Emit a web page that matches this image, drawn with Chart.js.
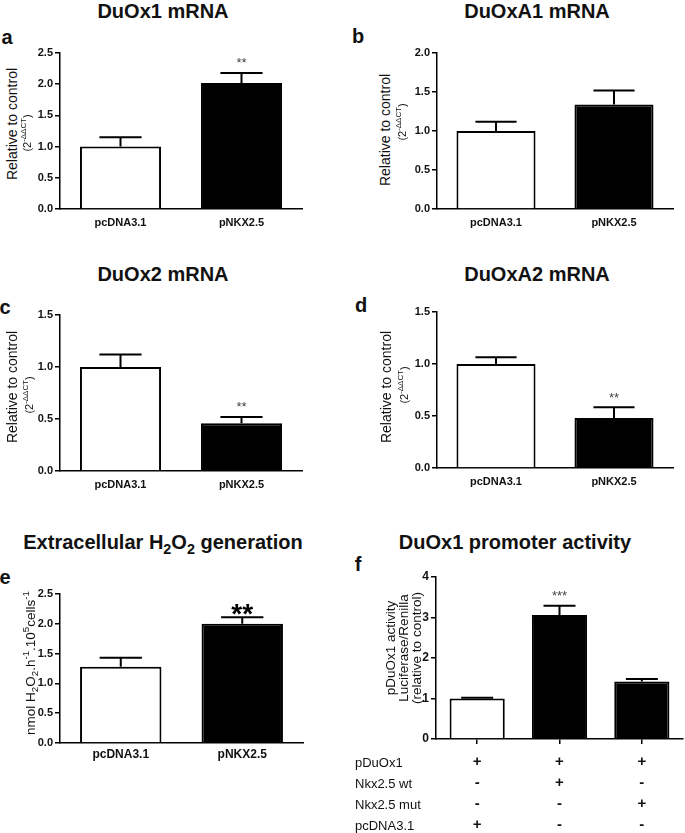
<!DOCTYPE html>
<html>
<head>
<meta charset="utf-8">
<script src="https://cdn.jsdelivr.net/npm/chart.js@4.4.1/dist/chart.umd.min.js"></script>
<style>
body { margin: 0; background: #fff; }
#fig { position: relative; width: 685px; height: 833px; overflow: hidden; font-family: "Liberation Sans", Arial, sans-serif; color: #111; }
#fig canvas { position: absolute; }
.t { position: absolute; white-space: nowrap; transform: translate(-50%, -50%); line-height: 1; }
.title { font-weight: bold; font-size: 20px; }
.letter { font-weight: bold; font-size: 20px; }
.ylab { transform: translate(-50%, -50%) rotate(-90deg); font-size: 14px; }
.ysub { transform: translate(-50%, -50%) rotate(-90deg); font-size: 11px; }
.ybig { transform: translate(-50%, -50%) rotate(-90deg); font-size: 13.5px; text-align: center; line-height: 13px; }
.row { transform: translate(0, -50%); font-size: 13px; }
sub, sup { font-size: 72%; line-height: 0; }
</style>
</head>
<body>
<div id="fig"></div>
<script>
// ---- data ----
const groups = ['pcDNA3.1', 'pNKX2.5'];
const duox1 = [1.00, 2.02];
const duox1Err = [0.15, 0.16];
const duox1Sig = ['', '**'];
const duoxa1 = [1.00, 1.34];
const duoxa1Err = [0.12, 0.18];
const duoxa1Sig = ['', ''];
const duox2 = [1.00, 0.46];
const duox2Err = [0.12, 0.06];
const duox2Sig = ['', '**'];
const duoxa2 = [1.00, 0.48];
const duoxa2Err = [0.065, 0.105];
const duoxa2Sig = ['', '**'];
const h2o2 = [1.28, 2.00];
const h2o2Err = [0.15, 0.11];
const h2o2Sig = ['', '**'];
const promoter = [1.00, 3.06, 1.42];
const promoterErr = [0.02, 0.23, 0.06];
const promoterSig = ['', '***', ''];
const rowLabels = ['pDuOx1', 'Nkx2.5 wt', 'Nkx2.5 mut', 'pcDNA3.1'];
const pDuOx1Row = ['+', '+', '+'];
const wtRow = ['-', '+', '-'];
const mutRow = ['-', '-', '+'];
const pcdnaRow = ['+', '-', '-'];
const colors2 = ['#ffffff', '#000000'];
const colors3 = ['#ffffff', '#000000', '#000000'];

Chart.defaults.font.family = '"Liberation Sans", Arial, sans-serif';
Chart.defaults.color = '#111';

const fig = document.getElementById('fig');

function errorBars(errs, sigs, st) {
  return {
    id: 'errorBars',
    afterDatasetsDraw(chart) {
      const ctx = chart.ctx, y = chart.scales.y;
      const ds = chart.data.datasets[0];
      ctx.save();
      ctx.strokeStyle = '#000';
      ctx.lineWidth = 2;
      chart.getDatasetMeta(0).data.forEach((bar, i) => {
        const v = ds.data[i];
        const yTop = y.getPixelForValue(v + errs[i]);
        const yVal = y.getPixelForValue(v);
        const half = bar.width * st.cap / 2;
        ctx.beginPath();
        ctx.moveTo(bar.x, yVal);
        ctx.lineTo(bar.x, yTop);
        ctx.moveTo(bar.x - half, yTop);
        ctx.lineTo(bar.x + half, yTop);
        ctx.stroke();
        if (sigs[i]) {
          ctx.fillStyle = st.color;
          ctx.font = st.font;
          ctx.textAlign = 'center';
          ctx.textBaseline = 'alphabetic';
          ctx.fillText(sigs[i], bar.x, yTop - st.gap + st.size * 0.57);
        }
      });
      ctx.restore();
    }
  };
}

function barPanel(box, labels, values, errs, sigs, colors, opt) {
  const yW = 34, padT = 12, padR = 8;
  const w = box.right - box.left + yW + padR;
  const h = box.bottom - box.top + padT + opt.xH;
  const cv = document.createElement('canvas');
  cv.width = w; cv.height = h;
  cv.style.left = (box.left - yW) + 'px';
  cv.style.top = (box.top - padT) + 'px';
  cv.style.width = w + 'px';
  cv.style.height = h + 'px';
  fig.appendChild(cv);

  const xAxis = opt.table ? {
    grid: { display: true, drawOnChartArea: false, offset: false, drawTicks: true, tickLength: 5, color: '#000', lineWidth: 1.5 },
    border: { display: true, color: '#000', width: 1.5 },
    ticks: { padding: opt.xPad, color: '#111', font: { size: 15, weight: 'bold', lineHeight: '21px' } },
    afterFit: s => { s.height = opt.xH; }
  } : {
    grid: { display: false, drawTicks: false },
    border: { display: true, color: '#000', width: 1.5 },
    ticks: { padding: opt.xPad, color: '#111', font: { size: opt.xFont, weight: 'bold' } },
    afterFit: s => { s.height = opt.xH; }
  };

  new Chart(cv, {
    type: 'bar',
    data: {
      labels: labels,
      datasets: [{
        data: values,
        backgroundColor: colors,
        borderColor: '#000',
        borderWidth: 2,
        borderSkipped: 'start',
        barPercentage: opt.barPct,
        categoryPercentage: 1
      }]
    },
    options: {
      responsive: false,
      animation: false,
      devicePixelRatio: 1,
      layout: { padding: { top: padT, right: padR, left: 0, bottom: 0 } },
      plugins: { legend: { display: false }, tooltip: { enabled: false } },
      scales: {
        x: xAxis,
        y: {
          min: 0, max: opt.yMax,
          ticks: { stepSize: opt.step, padding: 2, color: '#111', font: { size: opt.yFont, weight: 'bold' }, callback: v => opt.fmt(v) },
          grid: { display: true, drawOnChartArea: false, drawTicks: true, tickLength: 5, color: '#000', lineWidth: 1.5 },
          border: { display: true, color: '#000', width: 1.5 },
          afterFit: s => { s.width = yW; }
        }
      }
    },
    plugins: [errorBars(errs, sigs, opt.star)]
  });
}

const smallStar = { font: '13px "Liberation Sans", Arial, sans-serif', size: 13, color: '#444', gap: 13, cap: 0.52 };
const bigStar = { font: 'bold 28px "Liberation Sans", Arial, sans-serif', size: 28, color: '#000', gap: 10, cap: 0.52 };
const f1 = v => v.toFixed(1);
const mrnaOpt = (yMax) => ({ yMax: yMax, step: 0.5, fmt: f1, yFont: 11, xFont: 11, xPad: 7, xH: 26, barPct: 0.67, star: smallStar });

barPanel({ left: 60, top: 53, right: 302, bottom: 209 }, groups, duox1, duox1Err, duox1Sig, colors2, mrnaOpt(2.5));
barPanel({ left: 437, top: 53, right: 673, bottom: 209 }, groups, duoxa1, duoxa1Err, duoxa1Sig, colors2, mrnaOpt(2.0));
barPanel({ left: 60, top: 315, right: 302, bottom: 471 }, groups, duox2, duox2Err, duox2Sig, colors2, mrnaOpt(1.5));
barPanel({ left: 437, top: 312, right: 673, bottom: 468 }, groups, duoxa2, duoxa2Err, duoxa2Sig, colors2, mrnaOpt(1.5));
barPanel({ left: 60, top: 594, right: 303, bottom: 743 }, groups, h2o2, h2o2Err, h2o2Sig, colors2,
  { yMax: 2.5, step: 0.5, fmt: f1, yFont: 11, xFont: 12, xPad: 4, xH: 26, barPct: 0.67, star: bigStar });

const promoterLabels = pDuOx1Row.map((p, i) => [p, wtRow[i], mutRow[i], pcdnaRow[i]]);
barPanel({ left: 436, top: 577, right: 683, bottom: 739 }, promoterLabels, promoter, promoterErr, promoterSig, colors3,
  { yMax: 4, step: 1, fmt: v => String(v), yFont: 12, xPad: 7, xH: 100, barPct: 0.67, table: true,
    star: { font: '13px "Liberation Sans", Arial, sans-serif', size: 13, color: '#444', gap: 13, cap: 0.58 } });

// ---- text ----
function addText(cls, html, x, y) {
  const d = document.createElement('div');
  d.className = 't ' + cls;
  d.innerHTML = html;
  d.style.left = x + 'px';
  d.style.top = y + 'px';
  fig.appendChild(d);
  return d;
}

addText('title', 'DuOx1 mRNA', 163, 11);
addText('title', 'DuOxA1 mRNA', 537, 11);
addText('title', 'DuOx2 mRNA', 163, 274);
addText('title', 'DuOxA2 mRNA', 537, 274);
addText('title', 'Extracellular H<sub>2</sub>O<sub>2</sub> generation', 163, 542);
addText('title', 'DuOx1 promoter activity', 515, 542);

addText('letter', 'a', 7, 37);
addText('letter', 'b', 358, 36);
addText('letter', 'c', 5, 307);
addText('letter', 'd', 361, 305);
addText('letter', 'e', 5, 577);
addText('letter', 'f', 358, 564);

const ctLabel = '(2<sup>-ΔΔCT</sup>)';
addText('ylab', 'Relative to control', 12, 124);
addText('ysub', ctLabel, 27, 133);
addText('ylab', 'Relative to control', 385, 130);
addText('ysub', ctLabel, 402, 122);
addText('ylab', 'Relative to control', 12, 387);
addText('ysub', ctLabel, 29, 395);
addText('ylab', 'Relative to control', 386, 387);
addText('ysub', ctLabel, 404, 385);
addText('ybig', 'nmol H<sub>2</sub>O<sub>2</sub>.h<sup>-1</sup>.10<sup>5</sup>cells<sup>-1</sup>', 30, 663);
addText('ybig', 'pDuOx1 activity<br>Luciferase/Renilla<br>(relative to control)', 403, 648);

rowLabels.forEach((r, i) => addText('row', r, 355, 762 + i * 21));
</script>
</body>
</html>
